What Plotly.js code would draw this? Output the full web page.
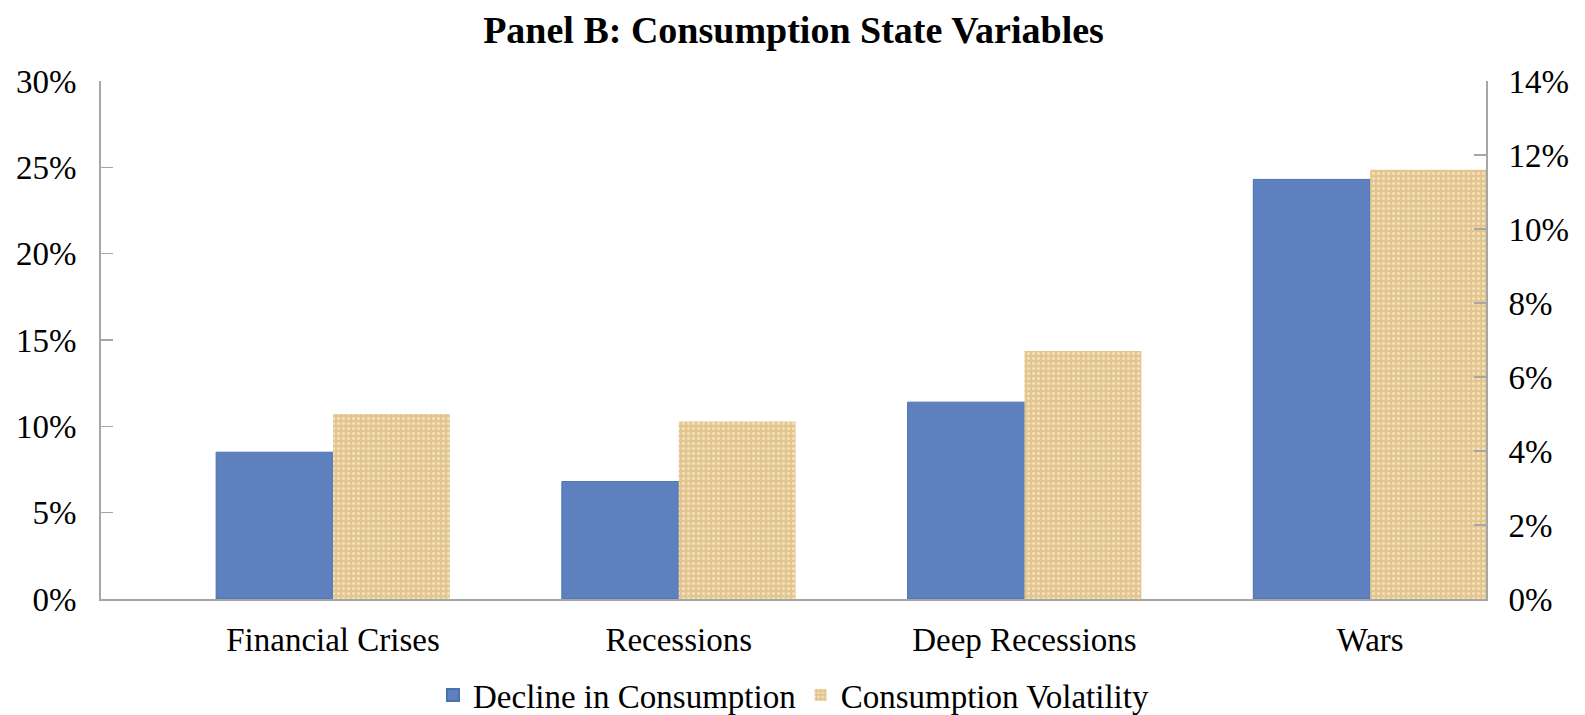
<!DOCTYPE html>
<html>
<head>
<meta charset="utf-8">
<script src="https://cdn.plot.ly/plotly-3.0.1.min.js"></script>
<style>html,body{margin:0;padding:0;background:#fff;}#chart{width:1585px;height:715px;}</style>
</head>
<body>
<div id="chart"></div>
<script>
const categories = ["Financial Crises", "Recessions", "Deep Recessions", "Wars"];
const declineInConsumption = [0.085, 0.068, 0.114, 0.243];
const consumptionVolatility = [0.050, 0.048, 0.067, 0.116];
const leftTicks = [0, 0.05, 0.10, 0.15, 0.20, 0.25, 0.30];
const rightTicks = [0, 0.02, 0.04, 0.06, 0.08, 0.10, 0.12, 0.14];

const serif = "Liberation Serif, Times New Roman, serif";
const axisGray = "#A6A6A6";
const barW = 0.338;

const traces = [
  {
    type: "bar",
    name: "Decline in Consumption",
    x: categories,
    y: declineInConsumption,
    yaxis: "y",
    width: barW,
    offset: -barW,
    marker: {color: "#5E80BF", line: {color: "#4A72B0", width: 1}},
    hoverinfo: "x+y"
  },
  {
    type: "bar",
    name: "Consumption Volatility",
    x: categories,
    y: consumptionVolatility,
    yaxis: "y2",
    width: barW,
    offset: 0,
    marker: {
      color: "#E6C993",
      line: {color: "#D9BD88", width: 0},
      pattern: {shape: ".", fillmode: "replace", bgcolor: "#E4C58D", fgcolor: "#F2E2C0", size: 5, solidity: 0.3}
    },
    hoverinfo: "x+y"
  }
];

const layout = {
  width: 1585,
  height: 715,
  paper_bgcolor: "#ffffff",
  plot_bgcolor: "#ffffff",
  margin: {l: 101, r: 99, t: 81, b: 116, autoexpand: false},
  title: {
    text: "<b>Panel B: Consumption State Variables</b>",
    font: {family: serif, size: 38, color: "#000000"},
    x: 0.5, xanchor: "center", xref: "paper",
    y: 0.958, yanchor: "middle"
  },
  showlegend: true,
  legend: {
    orientation: "h",
    x: 0.5, xanchor: "center", xref: "paper",
    y: 0.028, yanchor: "middle", yref: "container",
    font: {family: serif, size: 33, color: "#000000"},
    itemsizing: "constant",
    itemwidth: 30,
    traceorder: "normal",
    bgcolor: "rgba(0,0,0,0)"
  },
  xaxis: {
    type: "category",
    range: [-0.671, 3.335],
    automargin: false,
    showline: true, linecolor: axisGray, linewidth: 2,
    ticks: "", showgrid: false, zeroline: false,
    tickfont: {family: serif, size: 33, color: "#000000"},
    ticklabelstandoff: 10,
    fixedrange: true
  },
  yaxis: {
    range: [0, 0.30],
    automargin: false,
    tickvals: leftTicks,
    tickformat: ".0%",
    showline: true, linecolor: axisGray, linewidth: 2,
    ticks: "inside", ticklen: 12, tickcolor: axisGray, tickwidth: 1.5,
    showgrid: false, zeroline: false,
    tickfont: {family: serif, size: 33, color: "#000000"},
    ticklabelstandoff: 16,
    fixedrange: true
  },
  yaxis2: {
    range: [0, 0.14],
    automargin: false,
    overlaying: "y",
    side: "right",
    tickvals: rightTicks,
    tickformat: ".0%",
    showline: true, linecolor: axisGray, linewidth: 2,
    ticks: "inside", ticklen: 12, tickcolor: axisGray, tickwidth: 1.5,
    showgrid: false, zeroline: false,
    tickfont: {family: serif, size: 33, color: "#000000"},
    ticklabelstandoff: 14,
    fixedrange: true
  }
};

Plotly.newPlot("chart", traces, layout, {displayModeBar: false, staticPlot: true});
</script>
</body>
</html>
